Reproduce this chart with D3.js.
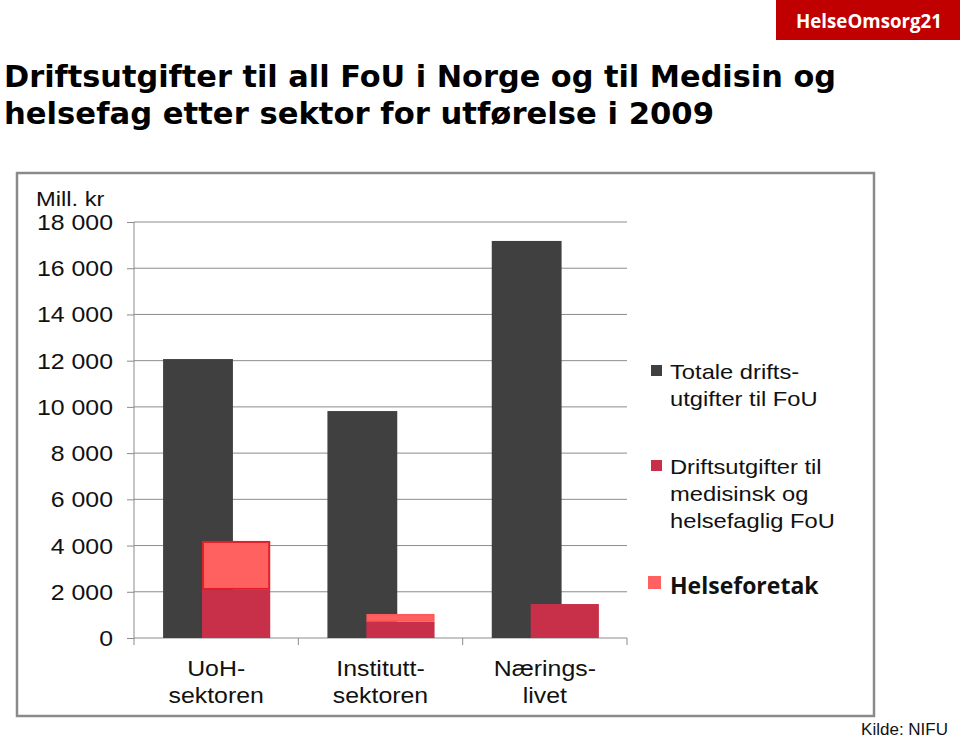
<!DOCTYPE html>
<html><head><meta charset="utf-8">
<script src="https://cdn.jsdelivr.net/npm/d3@7"></script>
<style>body{margin:0;background:#fff}svg{display:block}</style>
</head><body><svg id="c" width="960" height="738"></svg>
<script>
const categories = [["UoH-","sektoren"],["Institutt-","sektoren"],["Nærings-","livet"]];
const catKeys = ["UoH","Institutt","Naering"];
const totalFoU = [12070, 9820, 17180];
const medisin = [2080, 700, 1470];
const helseforetak = [2120, 340, 0];
const yTicks = [0,2000,4000,6000,8000,10000,12000,14000,16000,18000];
const legendItems = [
  {lines:["Totale drifts-","utgifter til FoU"], color:"#404040", bold:false},
  {lines:["Driftsutgifter til","medisinsk og","helsefaglig FoU"], color:"#c8304a", bold:false},
  {lines:["Helseforetak"], color:"#ff6060", bold:true}
];

const svg = d3.select("#c");
const lf = "'Liberation Sans', Arial, sans-serif";
const SX = 1.13;
function stext(x0, y0, str, size, anchor){
  return svg.append("text").attr("transform",`translate(${x0},${y0}) scale(${SX},1)`)
    .attr("text-anchor",anchor||"start").style("font",size+"px "+lf).attr("fill","#111").text(str);
}
// badge
svg.append("rect").attr("x",776).attr("y",0).attr("width",184).attr("height",40).attr("fill","#c00000");
svg.append("text").attr("x",869).attr("y",28).attr("text-anchor","middle").attr("fill","#fff")
  .style("font","bold 19px 'Open Sans', sans-serif").attr("textLength",146).attr("lengthAdjust","spacingAndGlyphs").text("HelseOmsorg21");
// title
const tfont = "bold 30px 'DejaVu Sans', sans-serif";
svg.append("text").attr("x",4).attr("y",87).style("font",tfont).attr("textLength",832).attr("lengthAdjust","spacingAndGlyphs")
  .text("Driftsutgifter til all FoU i Norge og til Medisin og");
svg.append("text").attr("x",4).attr("y",124).style("font",tfont).attr("textLength",710).attr("lengthAdjust","spacingAndGlyphs")
  .text("helsefag etter sektor for utførelse i 2009");
// frame
svg.append("rect").attr("x",17).attr("y",173).attr("width",857).attr("height",543).attr("fill","none").attr("stroke","#8a8a8a").attr("stroke-width",2.5);

const x = d3.scaleBand().domain(catKeys).range([134,627]);
const y = d3.scaleLinear().domain([0,18000]).range([638,222]);

// gridlines
svg.append("g").selectAll("line").data(yTicks.filter(d=>d>0)).join("line")
  .attr("x1",134).attr("x2",627).attr("y1",d=>y(d)).attr("y2",d=>y(d)).attr("stroke","#8c8c8c").attr("stroke-width",1);

// y axis
const fmt = d=>d3.format(",")(d).replace(/,/g," ");
const yAxis = d3.axisLeft(y).tickValues(yTicks).tickSize(7).tickFormat("");
const gy = svg.append("g").attr("transform","translate(134,0)").call(yAxis);
gy.select(".domain").attr("stroke","#8c8c8c").attr("d","M0,222V638");
gy.selectAll(".tick line").attr("stroke","#8c8c8c");
yTicks.forEach(t=>stext(113, y(t)+8, fmt(t), 22, "end"));
stext(36, 206, "Mill. kr", 21);

// x axis
svg.append("line").attr("x1",134).attr("x2",627).attr("y1",638).attr("y2",638).attr("stroke","#8c8c8c");
svg.append("g").selectAll("line").data([134,...catKeys.map(k=>x(k)+x.bandwidth())]).join("line")
  .attr("x1",d=>d).attr("x2",d=>d).attr("y1",638).attr("y2",645).attr("stroke","#8c8c8c");

const bw = x.bandwidth();
const darkOff = bw*0.177, darkW = bw*0.425, redOff = bw*0.414, redW = bw*0.415;
// totals
svg.append("g").selectAll("rect").data(catKeys).join("rect")
  .attr("x",k=>x(k)+darkOff).attr("width",darkW)
  .attr("y",(k,i)=>y(totalFoU[i])).attr("height",(k,i)=>y(0)-y(totalFoU[i])).attr("fill","#404040");
// medisin
svg.append("g").selectAll("rect").data(catKeys).join("rect")
  .attr("x",k=>x(k)+redOff).attr("width",redW)
  .attr("y",(k,i)=>y(medisin[i])).attr("height",(k,i)=>y(0)-y(medisin[i])).attr("fill","#c8304a");
// helseforetak
svg.append("g").selectAll("rect").data(catKeys.filter((k,i)=>helseforetak[i]>0)).join("rect")
  .attr("x",k=>x(k)+redOff+1).attr("width",redW-2)
  .attr("y",k=>{const i=catKeys.indexOf(k);return y(medisin[i]+helseforetak[i])+1;})
  .attr("height",k=>{const i=catKeys.indexOf(k);return y(medisin[i])-y(medisin[i]+helseforetak[i])-2;})
  .attr("fill","#ff6060").attr("stroke",k=>k==="UoH"?"#e0202a":"#ff5a5a").attr("stroke-width",2);

// category labels
catKeys.forEach((k,i)=>{
  categories[i].forEach((ln,j)=>{
    stext(x(k)+bw/2, 676+j*27, ln, 22, "middle");
  });
});

// legend
const legY = [371, 466, 586];
legendItems.forEach((it,i)=>{
  const bx = it.bold ? 648 : 651;
  const sz = it.bold ? 13 : 11;
  svg.append("rect").attr("x",bx).attr("y",legY[i]-(it.bold?10:6)).attr("width",sz).attr("height",sz).attr("fill",it.color);
  it.lines.forEach((ln,j)=>{
    if(it.bold){
      svg.append("text").attr("x",670).attr("y",legY[i]+8+j*27)
        .style("font","bold 23px 'Open Sans', sans-serif").attr("fill","#111").text(ln);
    } else {
      stext(670, legY[i]+8+j*27, ln, 21);
    }
  });
});

svg.append("text").attr("x",948).attr("y",735).attr("text-anchor","end").style("font","17px "+lf).attr("fill","#111").text("Kilde: NIFU");
</script></body></html>
